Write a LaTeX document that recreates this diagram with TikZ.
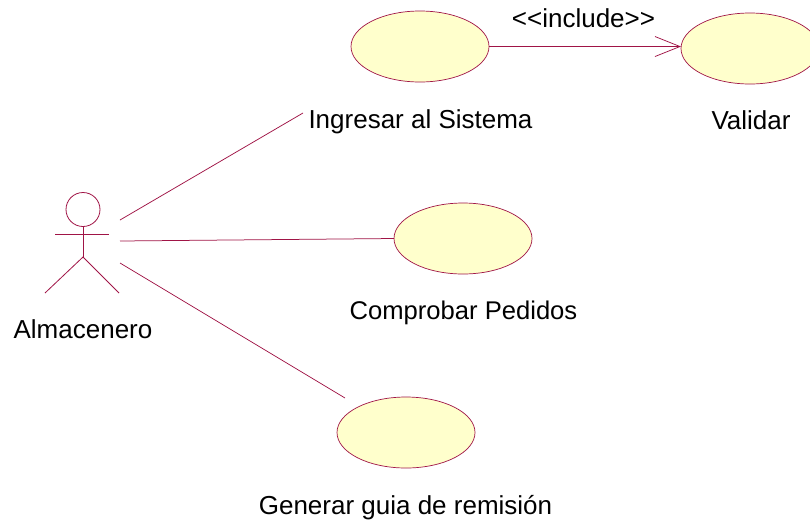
\documentclass[tikz,border=0pt]{standalone}
\usepackage{fontspec}
\setmainfont{Liberation Sans}
\usetikzlibrary{arrows.meta,shapes.geometric}
\definecolor{umlline}{RGB}{160,20,70}
\definecolor{umlfill}{RGB}{255,255,204}
\tikzset{
  usecase/.style={ellipse,draw=umlline,fill=umlfill,line width=0.7pt,minimum width=138pt,minimum height=71pt,inner sep=0pt,outer sep=0pt},
  lbl/.style={inner sep=0pt,font=\fontsize{26}{28}\selectfont,text=black,anchor=base},
  link/.style={draw=umlline,line width=0.75pt},
  actorpart/.style={draw=umlline,line width=0.8pt}
}
\begin{document}
\begin{tikzpicture}[x=1pt,y=-1pt]
\useasboundingbox (0,0) rectangle (810,523);
\clip (0,0) rectangle (810,523);
\fill[white] (0,0) rectangle (810,523);
\node[usecase] (ingresar) at (420,46.5) {};
\node[usecase] (validar) at (750,48.5) {};
\node[usecase] (comprobar) at (463,238.5) {};
\node[usecase] (generar) at (406,432.5) {};
\node[lbl] (lingresar) at (420.5,128) {Ingresar al Sistema};
\node[lbl] (lvalidar) at (751,129) {Validar};
\node[lbl,font=\fontsize{25.6}{28}\selectfont] (lcomprobar) at (463.5,319) {Comprobar Pedidos};
\node[lbl] (lgenerar) at (405.5,514) {Generar guia de remisión};
\node[lbl] (lactor) at (83,338) {Almacenero};
\node[lbl] (linclude) at (583.5,27) {<{}<include>{}>};
% actor
\node[circle,actorpart,minimum size=34pt,inner sep=0pt,outer sep=0pt] (head) at (83,209.5) {};
\coordinate (hip) at (83,257);
\coordinate (armL) at (55,234);
\coordinate (armR) at (109,234);
\coordinate (legL) at (45,293);
\coordinate (legR) at (119,293);
\draw[actorpart] (head.south) -- (hip);
\draw[actorpart] (armL) -- (armR);
\draw[actorpart] (legL) -- (hip) -- (legR);
% connectors
\coordinate (a1) at (120,220);
\coordinate (a2) at (120,241);
\coordinate (a3) at (120,263);
\coordinate (e1) at (303,113);
\coordinate (e3) at (345,398);
\draw[link] (a1) -- (e1);
\draw[link] (a2) -- (comprobar.west);
\draw[link] (a3) -- (e3);
\draw[link,-{Straight Barb[length=25pt,width=20pt,line width=0.75pt]}] (ingresar.east) -- (validar.west |- ingresar.east);
\end{tikzpicture}
\end{document}
